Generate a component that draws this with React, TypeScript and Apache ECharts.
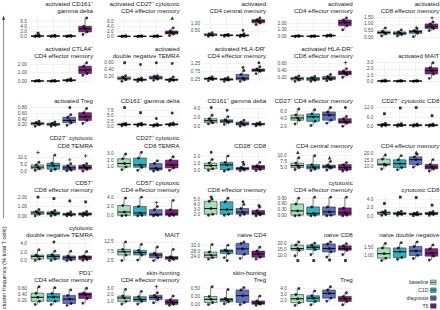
import React, { useEffect, useRef } from "react";
import * as echarts from "echarts";

const groups = ["baseline", "C1D", "diagnosis", "T6"];
const groupColors = ["#a3dfb8", "#2fb3bf", "#6170c2", "#851b83"];

const panelTitles = [
  "activated CD161⁺\ngamma delta",
  "activated CD27⁺ cytotoxic\nCD4 effector memory",
  "activated\nCD4 central memory",
  "activated\nCD4 effector memory",
  "activated\nCD8 effector memory",
  "activated CTLA4⁺\nCD4 effector memory",
  "activated\ndouble negative TEMRA",
  "activated HLA-DR⁺\nCD4 effector memory",
  "activated HLA-DR⁺\nCD8 effector memory",
  "activated MAIT",
  "activated Treg",
  "CD161⁻ gamma delta",
  "CD161⁺ gamma delta",
  "CD27⁻ CD4 effector memory",
  "CD27⁻ cytotoxic CD8",
  "CD27⁻ cytotoxic\nCD8 TEMRA",
  "CD27⁺ cytotoxic\nCD8 TEMRA",
  "CD28⁻ CD8",
  "CD4 central memory",
  "CD4 effector memory",
  "CD57⁺\nCD8 effector memory",
  "CD57⁺ cytotoxic\nCD4 effector memory",
  "CD8 effector memory",
  "cytotoxic\nCD4 effector memory",
  "cytotoxic CD8",
  "cytotoxic\ndouble negative TEMRA",
  "MAIT",
  "naive CD4",
  "naive CD8",
  "naive double negative",
  "PD1⁺\nCD4 effector memory",
  "skin-homing\nCD4 effector memory",
  "skin-homing\nTreg",
  "Treg",
];

const panelTicks = [
  ["0.0", "2.0", "4.0", "6.0"],
  ["0.0", "2.0", "4.0", "6.0"],
  ["0.50", "1.00"],
  ["0.00", "1.00", "2.00"],
  ["0.00", "0.50", "1.00", "1.50"],
  ["0.00", "1.00", "2.00"],
  ["0.20", "0.40", "0.60"],
  ["0.25", "0.75", "1.25"],
  ["0.20", "0.40", "0.60"],
  ["0.0", "1.0", "2.0", "3.0"],
  ["0.20", "0.40", "0.60", "0.80"],
  ["0.0", "2.5", "5.0", "7.5"],
  ["0.0", "2.0", "4.0"],
  ["2.0", "4.0", "6.0"],
  ["0.0", "6.0", "12.0"],
  ["0.0", "5.0", "10.0"],
  ["1.0", "2.0", "3.0"],
  ["0.0", "1.0", "2.0"],
  ["5.0", "7.5", "10.0"],
  ["10.0", "15.0", "20.0"],
  ["0.00", "1.00", "2.00"],
  ["0.0", "2.0", "4.0"],
  ["2.0", "3.0", "4.0", "5.0"],
  ["0.00", "0.30", "0.60", "0.90"],
  ["0.0", "2.0", "4.0"],
  ["0.0", "2.0", "4.0"],
  ["2.5", "7.5", "12.5"],
  ["24.0", "28.0", "32.0"],
  ["10.0", "15.0", "20.0"],
  ["1.00", "1.50"],
  ["0.20", "0.40", "0.60"],
  ["1.0", "2.0", "3.0"],
  ["0.10", "0.30", "0.50"],
  ["2.0", "3.0", "4.0"],
];

// per panel: for baseline, C1D, diagnosis, T6 -> [lower whisker, Q1, median, Q3, upper whisker]
const panelBoxes = [
  [[0, 0.1, 0.2, 0.35, 0.6], [0, 0.1, 0.2, 0.3, 0.5], [0, 0.1, 0.2, 0.3, 0.45], [0.8, 1.8, 3.0, 4.0, 7.2]],
  [[0, 0.05, 0.1, 0.2, 0.4], [0, 0.05, 0.1, 0.2, 0.35], [0, 0.05, 0.1, 0.2, 0.4], [0.4, 1.0, 1.5, 2.2, 3.4]],
  [[0.12, 0.18, 0.22, 0.3, 0.38], [0.12, 0.16, 0.2, 0.22, 0.26], [0.1, 0.14, 0.18, 0.22, 0.3], [0.95, 1.07, 1.2, 1.3, 1.42]],
  [[0, 0.03, 0.06, 0.1, 0.15], [0, 0.03, 0.05, 0.09, 0.14], [0.03, 0.08, 0.14, 0.2, 0.28], [1.0, 1.6, 2.05, 2.45, 2.75]],
  [[0.1, 0.25, 0.35, 0.45, 0.7], [0.1, 0.2, 0.3, 0.4, 0.55], [0.05, 0.3, 0.42, 0.5, 0.65], [0.5, 0.65, 0.8, 1.0, 1.15]],
  [[0, 0.02, 0.05, 0.08, 0.12], [0, 0.02, 0.04, 0.07, 0.1], [0.05, 0.08, 0.12, 0.2, 0.3], [0.7, 0.9, 1.3, 1.75, 2.15]],
  [[0.05, 0.1, 0.14, 0.18, 0.22], [0.05, 0.08, 0.1, 0.12, 0.15], [0.08, 0.12, 0.15, 0.2, 0.22], [0.05, 0.08, 0.1, 0.12, 0.18]],
  [[0.15, 0.22, 0.28, 0.32, 0.4], [0.1, 0.18, 0.22, 0.28, 0.35], [0.1, 0.2, 0.3, 0.55, 0.8], [0.6, 0.75, 0.82, 0.9, 1.05]],
  [[0.08, 0.12, 0.16, 0.2, 0.24], [0.08, 0.11, 0.15, 0.19, 0.22], [0.1, 0.13, 0.17, 0.22, 0.28], [0.2, 0.27, 0.32, 0.38, 0.45]],
  [[0.02, 0.05, 0.08, 0.12, 0.2], [0.02, 0.05, 0.08, 0.1, 0.15], [0.02, 0.05, 0.07, 0.1, 0.15], [0.5, 1.2, 1.75, 2.2, 3.0]],
  [[0.15, 0.2, 0.24, 0.28, 0.32], [0.15, 0.18, 0.22, 0.25, 0.3], [0.18, 0.27, 0.35, 0.46, 0.55], [0.25, 0.35, 0.48, 0.62, 0.77]],
  [[0.5, 0.8, 1.1, 1.3, 1.6], [0.5, 0.8, 1.1, 1.3, 1.6], [0.3, 0.6, 0.8, 1.0, 1.3], [0.6, 0.9, 1.1, 1.4, 1.8]],
  [[0.6, 0.85, 1.3, 1.75, 2.5], [0.5, 0.9, 1.2, 1.5, 2.2], [0.1, 0.35, 0.6, 1.0, 1.4], [0.2, 0.4, 0.55, 0.7, 0.9]],
  [[2.6, 3.6, 4.2, 5.0, 6.6], [2.2, 3.3, 4.5, 5.3, 6.4], [2.8, 3.6, 5.0, 5.8, 7.0], [2.0, 2.8, 3.2, 4.0, 4.6]],
  [[0.5, 0.8, 1.2, 1.6, 2.2], [0.4, 0.7, 1.0, 1.4, 2.0], [0.4, 0.7, 1.0, 1.3, 1.8], [0.4, 0.7, 1.0, 1.3, 1.8]],
  [[0.8, 1.8, 3.0, 4.5, 6.5], [0.5, 1.5, 4.0, 5.8, 11.5], [0.5, 1.0, 2.5, 4.0, 5.5], [0.3, 1.5, 2.8, 4.3, 5.5]],
  [[0.6, 1.0, 1.5, 2.2, 2.9], [0.5, 0.95, 1.3, 2.3, 3.15], [0.4, 0.55, 0.8, 1.5, 1.9], [0.5, 0.85, 1.3, 2.0, 2.5]],
  [[0.1, 0.3, 0.75, 1.1, 1.6], [0.0, 0.2, 0.85, 1.2, 2.1], [0.05, 0.15, 0.35, 0.5, 0.9], [0.05, 0.2, 0.55, 0.75, 1.2]],
  [[4.2, 5.0, 5.8, 6.8, 9.0], [3.8, 4.4, 5.2, 6.2, 9.8], [4.0, 4.8, 5.3, 6.0, 7.5], [3.6, 4.0, 5.0, 6.2, 7.0]],
  [[8.5, 11.3, 12.1, 15.9, 19.0], [8.0, 9.6, 12.5, 15.4, 18.5], [10.0, 11.8, 15.5, 17.6, 19.5], [7.0, 8.5, 10.0, 11.9, 15.5]],
  [[0.05, 0.2, 0.35, 0.5, 0.7], [0.05, 0.15, 0.3, 0.45, 0.6], [0.05, 0.1, 0.2, 0.3, 0.45], [0.05, 0.12, 0.2, 0.35, 0.5]],
  [[0, 0.1, 0.8, 2.2, 3.8], [0, 0.1, 0.6, 2.0, 4.0], [0, 0.1, 0.3, 1.3, 2.0], [0, 0.1, 0.4, 1.3, 3.3]],
  [[1.9, 2.1, 3.2, 4.6, 5.0], [1.9, 2.1, 3.0, 4.5, 5.2], [1.9, 2.1, 2.5, 3.2, 4.0], [1.8, 2.0, 2.3, 2.8, 3.5]],
  [[0, 0.03, 0.25, 0.6, 0.9], [0, 0.03, 0.12, 0.45, 0.95], [0, 0.03, 0.2, 0.45, 0.95], [0, 0.03, 0.15, 0.4, 0.95]],
  [[0.2, 0.4, 0.8, 1.0, 1.3], [0.2, 0.4, 0.6, 0.9, 1.2], [0.1, 0.3, 0.5, 0.7, 0.9], [0.2, 0.4, 0.6, 0.9, 1.1]],
  [[0.1, 0.4, 1.0, 1.3, 2.5], [0.1, 0.4, 1.0, 1.4, 2.2], [0.05, 0.2, 0.7, 1.1, 2.2], [0.1, 0.3, 0.8, 1.1, 2.1]],
  [[2.5, 5.5, 7.2, 8.5, 12.5], [2.8, 5.5, 6.8, 8.0, 11.2], [2.5, 4.0, 5.5, 6.5, 9.8], [2.5, 3.2, 4.0, 4.6, 8.5]],
  [[22.5, 23.5, 25.2, 27.3, 32.5], [23.5, 26.3, 28.0, 28.8, 32.0], [23.0, 25.7, 29.5, 33.2, 34.2], [22.5, 23.8, 26.0, 28.0, 30.6]],
  [[10, 14.6, 16, 18.9, 21.5], [11, 15.1, 17, 18.9, 20.5], [9, 13.2, 16, 19.8, 21.5], [11, 14.6, 16, 18.3, 20]],
  [[0.66, 0.82, 1.12, 1.5, 1.8], [0.75, 0.86, 1.25, 1.5, 1.85], [0.8, 1.0, 1.3, 1.6, 1.9], [0.7, 0.95, 1.15, 1.45, 1.7]],
  [[0.08, 0.18, 0.31, 0.44, 0.65], [0.08, 0.18, 0.32, 0.43, 0.62], [0.05, 0.11, 0.25, 0.37, 0.55], [0.12, 0.27, 0.4, 0.45, 0.6]],
  [[0.6, 1.0, 1.5, 1.8, 2.8], [0.6, 1.0, 1.3, 1.7, 2.5], [0.8, 1.25, 1.6, 1.9, 2.3], [0.4, 0.55, 0.85, 1.25, 1.8]],
  [[0.1, 0.15, 0.23, 0.3, 0.54], [0.12, 0.17, 0.22, 0.25, 0.47], [0.1, 0.15, 0.32, 0.46, 0.52], [0.08, 0.11, 0.14, 0.19, 0.31]],
  [[1.2, 1.65, 2.3, 3.0, 4.0], [1.3, 1.85, 2.4, 2.8, 3.6], [1.9, 2.4, 3.2, 3.75, 4.3], [1.3, 1.85, 2.3, 2.7, 3.3]],
];

// per panel: isolated points as [group index, value, patient]
const panelOutliers = [
  [[0, 1.3, 2]],
  [[3, 7.3, 1]],
  [[2, 0.55, 0]],
  [],
  [[2, 0.75, 3], [3, 1.45, 3]],
  [],
  [[0, 0.6, 2], [1, 0.55, 0], [2, 0.6, 0], [3, 0.58, 0]],
  [[2, 1.0, 0], [3, 1.3, 0]],
  [[3, 0.62, 3]],
  [],
  [[2, 0.8, 0]],
  [[0, 8.85, 2], [1, 6.5, 2], [2, 3.85, 0], [3, 6.35, 0]],
  [[0, 4.2, 0], [1, 3.6, 0]],
  [[3, 7.0, 0]],
  [[0, 8.0, 2], [1, 11.5, 2], [2, 11.8, 2], [3, 6.8, 2]],
  [[0, 13.5, 3], [2, 8.2, 3], [3, 11.0, 3]],
  [],
  [[0, 2.6, 0], [2, 1.2, 0]],
  [[0, 11.2, 1], [2, 9.0, 1]],
  [[2, 21.0, 1]],
  [[0, 2.0, 2], [1, 1.85, 2], [2, 1.6, 2], [3, 1.5, 2]],
  [[2, 2.8, 3]],
  [[0, 5.4, 2], [2, 4.5, 0], [3, 3.8, 0]],
  [],
  [[0, 3.0, 2], [1, 4.5, 2], [2, 4.4, 2], [3, 2.6, 2]],
  [[1, 4.3, 0]],
  [],
  [[1, 21.5, 0]],
  [[0, 6.0, 2], [1, 6.0, 2], [2, 6.5, 2], [3, 6.0, 2]],
  [],
  [],
  [[2, 3.2, 3]],
  [],
  [],
];

const FONT = "'Liberation Sans', Arial, Helvetica, sans-serif";
const COLS = 5;
const LEFT0 = 29.5;
const COL_STEP = 86.6;
const PLOT_W = 63.5;
const TOP0 = 17;
const ROW_STEP = 44.8;
const PLOT_H = 20.5;

const PLUS = "path://M2,0H3V2H5V3H3V5H2V3H0V2H2Z";
const shapeSymbols = ["circle", "triangle", "rect", PLUS];
const shapeSizes = [2.9, 3.5, 2.8, 3.6];
const jitter = [-2.2, 2.0, 0.4, -1.4, 1.6];

function buildOption() {
  const grid: any[] = [];
  const xAxis: any[] = [];
  const yAxis: any[] = [];
  const series: any[] = [];
  const graphic: any[] = [];

  panelTitles.forEach((title, i) => {
    const row = Math.floor(i / COLS);
    const col = i % COLS;
    const left = LEFT0 + col * COL_STEP;
    const top = TOP0 + row * ROW_STEP;
    grid.push({ left, top, width: PLOT_W, height: PLOT_H, containLabel: false });

    const boxes = panelBoxes[i];
    const outs = panelOutliers[i];
    let lo = Infinity;
    let hi = -Infinity;
    boxes.forEach((b) => b.forEach((v) => { lo = Math.min(lo, v); hi = Math.max(hi, v); }));
    outs.forEach((o) => { lo = Math.min(lo, o[1]); hi = Math.max(hi, o[1]); });
    const pad = (hi - lo) * 0.05;
    const yMin = lo - pad;
    const yMax = hi + pad;

    const tickLabels = panelTicks[i];
    const tickVals = tickLabels.map((t) => parseFloat(t));

    xAxis.push({ type: "category", gridIndex: i, data: groups, show: false, boundaryGap: true });
    yAxis.push({
      type: "value",
      gridIndex: i,
      min: yMin,
      max: yMax,
      axisLine: { show: false },
      axisTick: { show: false },
      splitLine: { show: false },
      axisLabel: {
        customValues: tickVals,
        fontSize: 4.8,
        color: "#4d4d4d",
        margin: 2.5,
        fontFamily: FONT,
        formatter: (v: number) => {
          const j = tickVals.findIndex((t) => Math.abs(t - v) < 1e-9);
          return j >= 0 ? tickLabels[j] : "";
        },
      },
    });

    // grid lines
    const step = tickVals.length > 1 ? tickVals[1] - tickVals[0] : 1;
    const lines: any[] = [];
    tickVals.forEach((t) => lines.push({ yAxis: t, lineStyle: { color: "#e8e8e8", width: 0.55 } }));
    const minors: number[] = [];
    for (let k = -1; k < tickVals.length; k++) {
      const m = tickVals[0] + (k + 0.5) * step;
      if (m > yMin && m < yMax) minors.push(m);
    }
    minors.forEach((m) => lines.push({ yAxis: m, lineStyle: { color: "#f0f0f0", width: 0.35 } }));
    groups.forEach((g) => lines.push({ xAxis: g, lineStyle: { color: "#e8e8e8", width: 0.55 } }));

    series.push({
      type: "custom",
      xAxisIndex: i,
      yAxisIndex: i,
      z: 3,
      silent: true,
      encode: { x: 0, y: [1, 2, 3, 4, 5] },
      data: boxes.map((b, g) => ({ value: [g, ...b], itemStyle: { color: groupColors[g] } })),
      renderItem: (params: any, api: any) => {
        const x = api.value(0);
        const pLo = api.coord([x, api.value(1)]);
        const pQ1 = api.coord([x, api.value(2)]);
        const pMd = api.coord([x, api.value(3)]);
        const pQ3 = api.coord([x, api.value(4)]);
        const pHi = api.coord([x, api.value(5)]);
        const bw = api.size([1, 0])[0] * 0.8;
        const cx = pMd[0];
        const stroke = "#333333";
        return {
          type: "group",
          children: [
            { type: "line", shape: { x1: cx, y1: pLo[1], x2: cx, y2: pQ1[1] }, style: { stroke, lineWidth: 0.6 } },
            { type: "line", shape: { x1: cx, y1: pQ3[1], x2: cx, y2: pHi[1] }, style: { stroke, lineWidth: 0.6 } },
            {
              type: "rect",
              shape: { x: cx - bw / 2, y: pQ3[1], width: bw, height: Math.max(pQ1[1] - pQ3[1], 0.3) },
              style: { fill: api.visual("color"), stroke, lineWidth: 0.6 },
            },
            { type: "line", shape: { x1: cx - bw / 2, y1: pMd[1], x2: cx + bw / 2, y2: pMd[1] }, style: { stroke: "#111", lineWidth: 1.1 } },
          ],
        };
      },
    });

    const pts: any[] = [];
    boxes.forEach((b, g) => {
      b.forEach((v, j) => {
        pts.push({ value: [g, v], symbol: "circle", symbolSize: 2.8, symbolOffset: [jitter[j], 0] });
      });
    });
    outs.forEach((o) => {
      pts.push({ value: [o[0], o[1]], symbol: shapeSymbols[o[2]], symbolSize: shapeSizes[o[2]], symbolOffset: [0.6, 0] });
    });
    series.push({
      type: "scatter",
      xAxisIndex: i,
      yAxisIndex: i,
      z: 4,
      silent: true,
      itemStyle: { color: "#000000" },
      data: pts,
      markLine: {
        silent: true,
        z: 1,
        symbol: ["none", "none"],
        label: { show: false },
        lineStyle: { type: "solid" },
        emphasis: { disabled: true },
        data: lines,
      },
    });

    graphic.push({
      type: "text",
      x: left + PLOT_W,
      y: top - 2.6,
      silent: true,
      style: {
        text: title,
        align: "right",
        verticalAlign: "bottom",
        fontSize: 6.2,
        lineHeight: 7.3,
        fill: "#1a1a1a",
        fontFamily: FONT,
      },
    });
  });

  // y-axis title with arrow
  graphic.push({
    type: "text",
    x: 3.6,
    y: 309,
    rotation: Math.PI / 2,
    silent: true,
    style: {
      text: "cluster frequency (% total T cells)",
      align: "left",
      verticalAlign: "middle",
      fontSize: 5.6,
      fill: "#1a1a1a",
      fontFamily: FONT,
    },
  });
  graphic.push({ type: "line", silent: true, shape: { x1: 3.6, y1: 218, x2: 3.6, y2: 19 }, style: { stroke: "#333", lineWidth: 0.6 } });
  graphic.push({ type: "polygon", silent: true, shape: { points: [[3.6, 15.5], [2.1, 19.8], [5.1, 19.8]] }, style: { fill: "#333" } });

  // legend
  groups.forEach((g, k) => {
    const yc = 282.3 + k * 7.9;
    graphic.push({
      type: "text",
      x: 428.5,
      y: yc,
      silent: true,
      style: { text: g, align: "right", verticalAlign: "middle", fontSize: 5.2, fill: "#333", fontFamily: FONT },
    });
    graphic.push({
      type: "rect",
      silent: true,
      shape: { x: 430.5, y: yc - 2.3, width: 5.6, height: 4.6 },
      style: { fill: groupColors[k], stroke: "#333", lineWidth: 0.45 },
    });
    graphic.push({
      type: "line",
      silent: true,
      shape: { x1: 430.5, y1: yc, x2: 436.1, y2: yc },
      style: { stroke: "#222", lineWidth: 0.7 },
    });
  });

  return {
    animation: false,
    backgroundColor: "#ffffff",
    textStyle: { fontFamily: FONT },
    grid,
    xAxis,
    yAxis,
    series,
    graphic,
  };
}

export default function App() {
  const ref = useRef<HTMLDivElement>(null);
  useEffect(() => {
    document.body.style.margin = "0";
    if (!ref.current) return;
    const chart = echarts.init(ref.current, undefined, { renderer: "svg" });
    chart.setOption(buildOption() as any);
    return () => chart.dispose();
  }, []);
  return <div ref={ref} style={{ width: 440, height: 310 }} />;
}
